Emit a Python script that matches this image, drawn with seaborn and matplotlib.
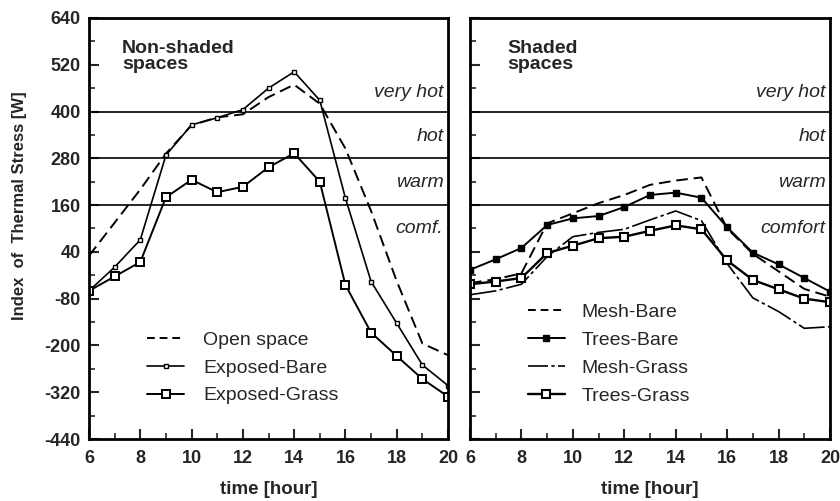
import matplotlib
matplotlib.use("Agg")
import matplotlib.pyplot as plt
import seaborn as sns
import numpy as np
import pandas as pd
from matplotlib.lines import Line2D

hours = list(range(6, 21))

# Non-shaded spaces
open_space    = [30, 115, 200, 292, 365, 385, 393, 437, 469, 420, 305, 145, -35, -195, -225]
exposed_bare  = [-60, 1, 71, 288, 366, 384, 405, 460, 502, 429, 178, -36, -143, -250, -303]
exposed_grass = [-60, -23, 14, 180, 225, 193, 207, 257, 293, 220, -45, -167, -227, -286, -331]

# Shaded spaces
mesh_bare   = [-40, -30, -15, 113, 139, 165, 186, 212, 223, 231, 100, 35, -10, -55, -75]
trees_bare  = [-6, 21, 50, 109, 126, 132, 155, 186, 192, 179, 103, 38, 8, -27, -62]
mesh_grass  = [-70, -60, -43, 28, 79, 90, 98, 122, 145, 120, 10, -78, -113, -156, -152]
trees_grass = [-43, -36, -27, 37, 56, 75, 79, 94, 108, 98, 18, -32, -56, -80, -89]

zone_levels = [400, 280, 160]
zone_left = ["very hot", "hot", "warm", "comf."]
zone_right = ["very hot", "hot", "warm", "comfort"]
zone_text_y = [450, 335, 217, 101]

y_ticks = [640, 520, 400, 280, 160, 40, -80, -200, -320, -440]
x_ticks = [6, 8, 10, 12, 14, 16, 18, 20]

sns.set_theme(style="ticks")
plt.rcParams['font.family'] = ['Liberation Sans', 'DejaVu Sans']
plt.rcParams['axes.unicode_minus'] = False

fig = plt.figure(figsize=(8.4, 5.01), dpi=100)
axL = fig.add_axes([89/840, 1-439/501, 359/840, 421/501])
axR = fig.add_axes([470/840, 1-439/501, 360/840, 421/501])

def draw(ax, y, marker=None, ms=4, mfc='white', lw=1.2, dashes=None, mew=1.0):
    line_kw = {}
    if marker:
        line_kw.update(marker=marker, markersize=ms, markerfacecolor=mfc,
                       markeredgecolor='black', markeredgewidth=mew)
    if dashes is not None:
        line_kw.update(dashes=dashes)
    sns.lineplot(x=hours, y=y, ax=ax, color='black', linewidth=lw, legend=False, **line_kw)

# Left panel
draw(axL, open_space, lw=1.4, dashes=(6, 3))
draw(axL, exposed_bare, marker='s', ms=3.5, lw=1.2)
draw(axL, exposed_grass, marker='s', ms=6, lw=1.4, mew=1.4)

# Right panel
draw(axR, mesh_bare, lw=1.4, dashes=(6, 3))
draw(axR, trees_bare, marker='s', ms=4.5, mfc='black', lw=1.4)
draw(axR, mesh_grass, lw=1.2, dashes=(16, 2, 2, 2))
draw(axR, trees_grass, marker='s', ms=6, lw=1.7, mew=1.5)

for ax, zl, title, tx in [(axL, zone_left, "Non-shaded\nspaces", 0.092),
                          (axR, zone_right, "Shaded\nspaces", 0.103)]:
    ax.set_xlim(6, 20)
    ax.set_ylim(-440, 640)
    for lv in zone_levels:
        ax.axhline(lv, color='black', linewidth=1.2, zorder=1)
    for txt, ty in zip(zl, zone_text_y):
        ax.text(19.82, ty, txt, ha='right', va='center', style='italic', fontsize=14)
    ax.text(tx, 0.948, title, transform=ax.transAxes, ha='left', va='top',
            fontweight='bold', fontsize=14, linespacing=0.95)
    ax.set_xticks(x_ticks)
    ax.set_xticks(range(7, 20, 2), minor=True)
    ax.set_yticks(y_ticks)
    ax.set_yticks(np.arange(-380, 640, 120), minor=True)
    ax.tick_params(axis='both', which='major', direction='in', length=7, width=1.5,
                   labelsize=13)
    ax.tick_params(axis='x', which='major', pad=8)
    ax.tick_params(axis='y', which='major', pad=6)
    ax.tick_params(axis='both', which='minor', direction='in', length=4, width=1.2)
    ax.tick_params(axis='y', which='both', right=False)
    ax.tick_params(axis='x', which='both', top=False)
    for lab in ax.get_xticklabels() + ax.get_yticklabels():
        lab.set_fontweight('bold')
    for s in ax.spines.values():
        s.set_linewidth(2)
        s.set_color('black')
    ax.set_xlabel("time [hour]", fontweight='bold', fontsize=13.5, labelpad=10)
    ax.set_ylabel("")
    ax.grid(False)

axR.set_yticklabels([])
axL.set_ylabel("Index  of  Thermal Stress [W]", fontweight='bold', fontsize=12)
axL.yaxis.set_label_coords(-0.172, 0.553)

# Legends
hL = [Line2D([], [], color='black', lw=1.4, dashes=(4, 2.5)),
      Line2D([], [], color='black', lw=1.2, marker='s', ms=3.5, mfc='white', mec='black'),
      Line2D([], [], color='black', lw=1.4, marker='s', ms=6, mfc='white', mec='black', mew=1.4)]
axL.legend(hL, ["Open space", "Exposed-Bare", "Exposed-Grass"], loc='upper left',
           bbox_to_anchor=(0.14, 0.275), frameon=False, fontsize=14, handlelength=1.9,
           labelspacing=0.53, handletextpad=1.0, borderaxespad=0.0)
hR = [Line2D([], [], color='black', lw=1.4, dashes=(4, 2.5)),
      Line2D([], [], color='black', lw=1.4, marker='s', ms=4.5, mfc='black', mec='black'),
      Line2D([], [], color='black', lw=1.2, dashes=(12, 2, 2, 2)),
      Line2D([], [], color='black', lw=1.7, marker='s', ms=6, mfc='white', mec='black', mew=1.5)]
axR.legend(hR, ["Mesh-Bare", "Trees-Bare", "Mesh-Grass", "Trees-Grass"], loc='upper left',
           bbox_to_anchor=(0.139, 0.34), frameon=False, fontsize=14, handlelength=1.9,
           labelspacing=0.53, handletextpad=0.85, borderaxespad=0.0)

fig.savefig("out.png", dpi=100, facecolor='white')
